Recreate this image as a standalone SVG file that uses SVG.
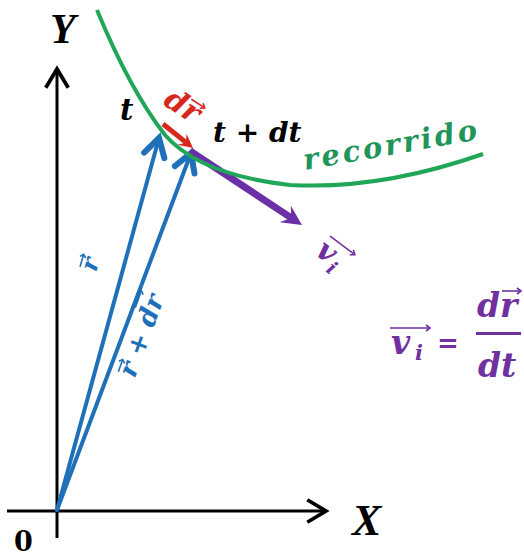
<svg xmlns="http://www.w3.org/2000/svg" width="524" height="559" viewBox="0 0 524 559">
<defs>
<style>
.m{font-family:"DejaVu Serif","Liberation Serif",serif;font-weight:bold;font-style:italic}
.L{font-family:"Liberation Serif","DejaVu Serif",serif;font-weight:bold;font-style:italic}
.up{font-family:"DejaVu Serif","Liberation Serif",serif;font-weight:bold}
.eq{font-family:"DejaVu Sans","Liberation Sans",sans-serif;font-weight:bold}
.ax{stroke:#000;stroke-width:3;fill:none}
.bl{stroke:#1f70b8;stroke-width:4;fill:none;stroke-linecap:round}
.acc{stroke-width:1.6;fill:none}
</style>
<marker id="chevB" markerUnits="userSpaceOnUse" markerWidth="30" markerHeight="30" refX="0" refY="0" viewBox="-16 -10 20 20" orient="auto">
<path d="M-12,-7 L0,0 L-12,7" fill="none" stroke="#1f70b8" stroke-width="4" stroke-linecap="round"/>
</marker>
<marker id="chevK" markerUnits="userSpaceOnUse" markerWidth="30" markerHeight="30" refX="0" refY="0" viewBox="-20 -12 24 24" orient="auto">
<path d="M-15,-9 L0,0 L-15,9" fill="none" stroke="#000" stroke-width="3"/>
</marker>
</defs>
<rect width="524" height="559" fill="#fff"/>

<g id="axes">
<line class="ax" x1="57" y1="538" x2="57" y2="69" marker-end="url(#chevK)"/>
<line class="ax" x1="7" y1="511" x2="326" y2="511" marker-end="url(#chevK)"/>
</g>

<g id="connectors">
<line id="vec-r" class="bl" x1="57" y1="510" x2="159" y2="138" marker-end="url(#chevB)"/>
<line id="vec-rdr" class="bl" x1="57" y1="510" x2="191" y2="153" marker-end="url(#chevB)"/>
<g id="vec-dr">
<line x1="163" y1="124" x2="186" y2="142.4" stroke="#d8281e" stroke-width="5"/>
<polygon points="193,148 186.5,133.8 186,142.4 177.7,144.7" fill="#d8281e"/>
</g>
<g id="vec-v">
<line x1="190" y1="151" x2="291.2" y2="217.8" stroke="#6b2fa6" stroke-width="7"/>
<polygon points="302,225 290.8,205.7 291.2,217.8 279.8,222.3" fill="#6b2fa6"/>
</g>
</g>

<g id="curve">
<path d="M97,10 Q130,90 165,135 Q200,175 290,185 Q380,190 483,154" fill="none" stroke="#1fa657" stroke-width="4"/>
</g>

<g id="label-Y"><text class="L" x="50" y="43" font-size="42">Y</text></g>
<g id="label-X"><text class="L" x="352" y="535" font-size="44">X</text></g>
<g id="label-0"><text class="up" x="14" y="551" font-size="27">0</text></g>
<g id="label-t"><text class="m" x="120" y="120" font-size="29">t</text></g>
<g id="label-tdt"><text class="m" x="213" y="142" font-size="28">t + dt</text></g>
<g id="label-recorrido"><text class="m" transform="translate(305,170) rotate(-10)" font-size="29" fill="#21945a" textLength="176" lengthAdjust="spacing">recorrido</text></g>

<g id="label-dr" transform="translate(162,104) rotate(33)" fill="#d8281e">
<text class="m" x="0" y="0" font-size="30">dr</text>
<line class="acc" x1="22" y1="-20" x2="38" y2="-20" stroke="#d8281e"/>
<path d="M34,-23 L38,-20 L34,-17" class="acc" stroke="#d8281e"/>
</g>

<g id="label-r" transform="translate(92,265) rotate(-74)" fill="#1f70b8">
<text class="m" x="-6" y="6" font-size="24">r</text>
<line class="acc" x1="-5" y1="-11" x2="8" y2="-11" stroke="#1f70b8"/>
<path d="M5,-14 L8,-11 L5,-8" class="acc" stroke="#1f70b8"/>
</g>

<g id="label-rdr" transform="translate(143,336) rotate(-70)" fill="#1f70b8">
<text class="m" x="-43" y="7" font-size="26">r + dr</text>
<line class="acc" x1="-42" y1="-11" x2="-29" y2="-11" stroke="#1f70b8"/>
<path d="M-32,-14 L-29,-11 L-32,-8" class="acc" stroke="#1f70b8"/>
<line class="acc" x1="24" y1="-17" x2="42" y2="-17" stroke="#1f70b8"/>
<path d="M39,-20 L42,-17 L39,-14" class="acc" stroke="#1f70b8"/>
</g>

<g id="label-vi" transform="translate(314,254) rotate(37)" fill="#7030a0">
<text class="m" x="0" y="0" font-size="30">v</text>
<text class="m" x="19" y="7" font-size="19">i</text>
<line class="acc" x1="2" y1="-24" x2="33" y2="-24" stroke="#7030a0"/>
<path d="M29,-27 L33,-24 L29,-21" class="acc" stroke="#7030a0"/>
</g>

<g id="formula" fill="#7030a0">
<text class="m" x="391" y="354" font-size="33">v</text>
<text class="m" x="415" y="360" font-size="21">i</text>
<line class="acc" x1="390" y1="328" x2="430" y2="328" stroke="#7030a0"/>
<path d="M426,325 L430,328 L426,331" class="acc" stroke="#7030a0"/>
<text class="eq" x="437" y="352" font-size="26">=</text>
<text class="m" x="477" y="317" font-size="33">dr</text>
<line class="acc" x1="502" y1="291" x2="521" y2="291" stroke="#7030a0"/>
<path d="M517,288 L521,291 L517,294" class="acc" stroke="#7030a0"/>
<line x1="476" y1="333.5" x2="521" y2="333.5" stroke="#7030a0" stroke-width="3"/>
<text class="m" x="478" y="377" font-size="33">dt</text>
</g>
</svg>
